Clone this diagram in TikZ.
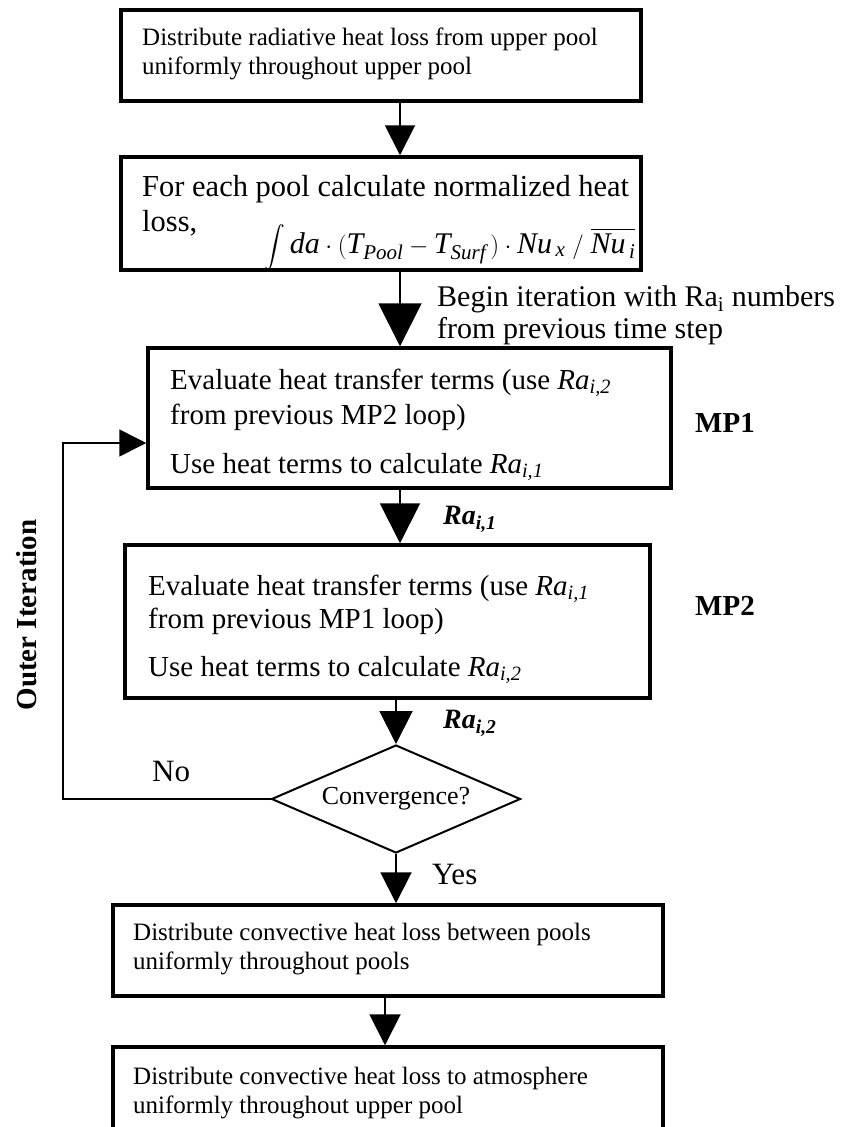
\documentclass[tikz,border=0pt]{standalone}
\usepackage{amsmath}
\usepackage{fontspec}
\setmainfont{Liberation Serif}
\usetikzlibrary{arrows.meta,shapes.geometric,calc}
\begin{document}
\begin{tikzpicture}[x=1pt,y=-1pt,
  box/.style={draw,line width=3.5pt,inner sep=0pt},
  txt/.style={anchor=base west,inner sep=0pt},
  fs/.style={font=\fontsize{25}{29}\selectfont},
  fm/.style={font=\fontsize{29}{34}\selectfont},
  fl/.style={font=\fontsize{30.5}{36}\selectfont},
  fb/.style={font=\fontsize{29}{34}\selectfont\bfseries},
  conn/.style={line width=2pt},
  tip/.style={-{Triangle[width=#1pt,length=#1pt]}}]
\useasboundingbox (0,0) rectangle (842,1127);
% boxes
\node[box,minimum width=520pt,minimum height=91pt] (b1) at (381,55.5) {};
\node[box,minimum width=520pt,minimum height=113pt] (b2) at (381,213.5) {};
\node[box,minimum width=523pt,minimum height=140pt] (b3) at (409.5,418) {};
\node[box,minimum width=525pt,minimum height=153pt] (b4) at (387.5,621.5) {};
\node[draw,diamond,line width=2pt,minimum width=249pt,minimum height=108pt,aspect=2.3,inner sep=0pt,font=\fontsize{26}{30}\selectfont] (d) at (396,799) {Convergence?};
\node[box,minimum width=550pt,minimum height=91pt] (b5) at (388,950.5) {};
\node[box,minimum width=550pt,minimum height=94pt] (b6) at (388,1094) {};
% texts
\node[txt,fs] (t1a) at (142,45) {Distribute radiative heat loss from upper pool};
\node[txt,fs] (t1b) at (142,74) {uniformly throughout upper pool};
\node[txt,fl] (t2a) at (142,196) {For each pool calculate normalized heat};
\node[txt,fl] (t2b) at (142,231) {loss,};
\node[txt,font=\fontsize{30}{34}\selectfont] (t2c) at (264,253) {{\fontsize{20}{20}\selectfont$\displaystyle\int$}\,$\textit{da}\cdot(\textit{T}_{\textit{Pool}}-\textit{T}_{\textit{Surf}}\,)\cdot \textit{Nu}_{\,\textit{x}}\;/\;\overline{\textit{Nu}_{\,\textit{i}}}$};
\node[txt,font=\fontsize{30}{36}\selectfont] (tba) at (437,306) {Begin iteration with Ra\textsubscript{i} numbers};
\node[txt,font=\fontsize{30}{36}\selectfont] (tbb) at (437,338) {from previous time step};
\node[txt,fm] (t3a) at (170,389) {Evaluate heat transfer terms (use $\textit{Ra}_{\textit{i,2}}$};
\node[txt,fm] (t3b) at (170,424) {from previous MP2 loop)};
\node[txt,fm] (t3c) at (170,473) {Use heat terms to calculate $\textit{Ra}_{\textit{i,1}}$};
\node[txt,fm] (t4a) at (148,595) {Evaluate heat transfer terms (use $\textit{Ra}_{\textit{i,1}}$};
\node[txt,fm] (t4b) at (148,628) {from previous MP1 loop)};
\node[txt,fm] (t4c) at (148,676) {Use heat terms to calculate $\textit{Ra}_{\textit{i,2}}$};
\node[txt,fb] (mp1) at (695,432) {MP1};
\node[txt,fb] (mp2) at (695,615) {MP2};
\node[txt,font=\fontsize{28}{32}\selectfont\bfseries] (r1) at (443,524) {$\textbf{\textit{Ra}}_{\textbf{\textit{i,1}}}$};
\node[txt,font=\fontsize{28}{32}\selectfont\bfseries] (r2) at (443,728) {$\textbf{\textit{Ra}}_{\textbf{\textit{i,2}}}$};
\node[txt,font=\fontsize{31}{35}\selectfont] (no) at (152,781) {No};
\node[txt,font=\fontsize{31}{35}\selectfont] (yes) at (432,884) {Yes};
\node[fb,rotate=90,inner sep=0pt] (oi) at (27,615) {Outer Iteration};
\node[txt,fs] (t5a) at (133,940) {Distribute convective heat loss between pools};
\node[txt,fs] (t5b) at (133,969) {uniformly throughout pools};
\node[txt,fs] (t6a) at (133,1084) {Distribute convective heat loss to atmosphere};
\node[txt,fs] (t6b) at (133,1113) {uniformly throughout upper pool};
% connector x positions
\coordinate (x1) at (400,0);
\coordinate (x6) at (385,0);
\coordinate (lc) at (63,799);
% connectors
\draw[conn,tip=30] (b1.south -| x1) -- (b2.north -| x1);
\draw[conn,tip=43] (b2.south -| x1) -- (b3.north -| x1);
\draw[conn,tip=40] (b3.south -| x1) -- (b4.north -| x1);
\draw[conn,tip=33] (b4.south -| d.north) -- (d.north);
\draw[conn,tip=31] (d.south) -- (b5.north -| d.south);
\draw[conn,tip=31] (b5.south -| x6) -- (b6.north -| x6);
\draw[line width=1.6pt,tip=27] (d.west) -- (lc) |- ($(b3.west)+(0,25)$);
\end{tikzpicture}
\end{document}
